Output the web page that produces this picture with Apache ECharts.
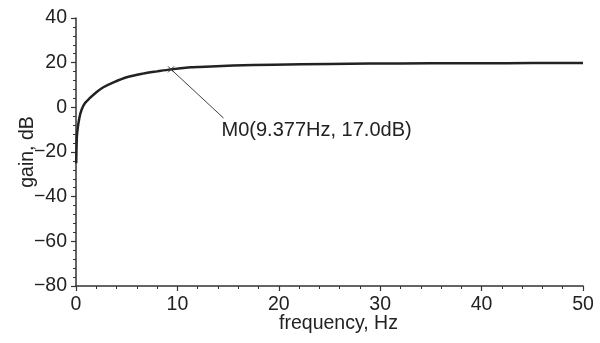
<!DOCTYPE html>
<html>
<head>
<meta charset="utf-8">
<script src="https://cdn.jsdelivr.net/npm/echarts@6/dist/echarts.min.js"></script>
<style>
  html, body { margin: 0; padding: 0; background: #fff; }
  #chart { width: 600px; height: 343px; }
</style>
</head>
<body>
<div id="chart"></div>
<script>
// gain curve
const freqHz = [0.02, 0.07, 0.13, 0.33, 0.56, 0.89, 1.38, 2.04, 2.7, 3.7, 5.0, 6.6, 8.0, 9.377, 11.3, 12.2, 15.5, 19.5, 25, 29, 35, 40, 45, 50]
const gainDb = [-25, -15, -10.8, -4.8, -1.0, 1.9, 4.2, 6.9, 9.0, 11.2, 13.5, 15.1, 16.1, 17.0, 17.9, 18.1, 18.7, 19.1, 19.4, 19.6, 19.7, 19.75, 19.8, 19.8]

// marker M0 and where its label sits
const markerPoint = [9.377, 17.0]
const labelAnchor = [14.55, -4.8]
const markerText = 'M0(9.377Hz, 17.0dB)'

const font = 'Liberation Sans'
const ink = '#222'
const fs = 19.5

const chart = echarts.init(document.getElementById('chart'))

chart.setOption({
  animation: false,
  backgroundColor: '#fff',
  grid: { left: 76, right: 17, top: 18, bottom: 57, outerBoundsMode: 'none', containLabel: false },
  xAxis: {
    type: 'value',
    min: 0,
    max: 50,
    interval: 10,
    name: 'frequency, Hz',
    nameLocation: 'middle',
    nameGap: 28,
    nameMoveOverlap: false,
    nameTextStyle: { color: ink, fontFamily: font, fontSize: fs, padding: [0, 0, 0, 18] },
    axisLine: { onZero: false, lineStyle: { color: '#333', width: 1.5 } },
    axisTick: { length: 5, lineStyle: { color: '#333', width: 1.2 } },
    minorTick: { show: true, splitNumber: 5, length: 3, lineStyle: { color: '#333', width: 1 } },
    axisLabel: { color: ink, fontFamily: font, fontSize: fs, margin: 9 },
    splitLine: { show: false }
  },
  yAxis: {
    type: 'value',
    min: -80,
    max: 40,
    interval: 20,
    name: 'gain, dB',
    nameLocation: 'middle',
    nameGap: 38,
    nameMoveOverlap: false,
    nameTextStyle: { color: ink, fontFamily: font, fontSize: fs },
    axisLine: { show: true, onZero: false, lineStyle: { color: '#333', width: 1.5 } },
    axisTick: { show: true, length: 5, lineStyle: { color: '#333', width: 1.2 } },
    minorTick: { show: true, splitNumber: 5, length: 3, lineStyle: { color: '#333', width: 1 } },
    axisLabel: {
      color: ink, fontFamily: font, fontSize: fs, margin: 9,
      formatter: v => (v < 0 ? '\u2212' + Math.abs(v) : '' + v)
    },
    splitLine: { show: false }
  },
  series: [
    {
      type: 'line',
      data: freqHz.map((f, i) => [f, gainDb[i]]),
      smooth: 0.3,
      showSymbol: false,
      lineStyle: { color: '#222', width: 2.5 },
      markLine: {
        silent: true,
        symbol: 'none',
        label: { show: false },
        lineStyle: { color: '#444', width: 1, type: 'solid' },
        data: [[{ coord: markerPoint }, { coord: labelAnchor }]]
      },
      markPoint: {
        silent: true,
        data: [
          {
            coord: markerPoint,
            symbol: 'path://M0,0L10,10M10,0L0,10',
            symbolSize: 6,
            itemStyle: { color: 'none', borderColor: '#333', borderWidth: 1 },
            label: { show: false }
          },
          {
            coord: labelAnchor,
            symbol: 'circle',
            symbolSize: 0,
            label: {
              show: true,
              formatter: markerText,
              position: [-2, 2],
              align: 'left',
              verticalAlign: 'top',
              color: ink,
              fontFamily: font,
              fontSize: 20
            }
          }
        ]
      }
    }
  ]
})
</script>
</body>
</html>
